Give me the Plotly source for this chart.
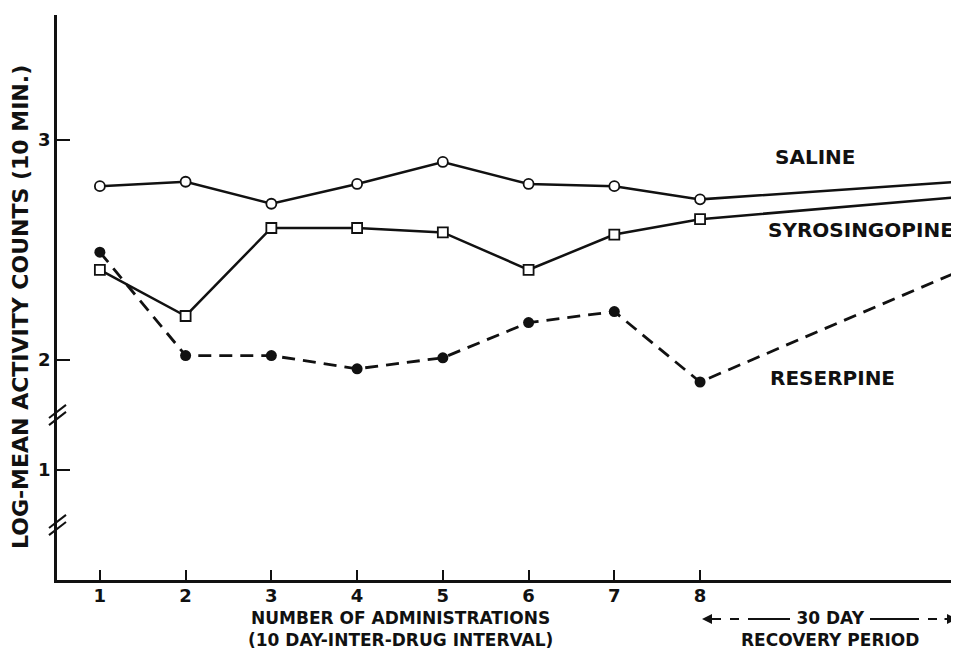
import plotly.graph_objects as go

# ---- data ----
x_admin = [1, 2, 3, 4, 5, 6, 7, 8, 11]
x_tick_vals = [1, 2, 3, 4, 5, 6, 7, 8, 11]
x_tick_text = ["1", "2", "3", "4", "5", "6", "7", "8", ""]
saline = [2.79, 2.81, 2.71, 2.80, 2.90, 2.80, 2.79, 2.73, 2.81]
syrosingopine = [2.41, 2.20, 2.60, 2.60, 2.58, 2.41, 2.57, 2.64, 2.74]
reserpine = [2.49, 2.02, 2.02, 1.96, 2.01, 2.17, 2.22, 1.90, 2.40]
y_tick_vals = [1.5, 2, 3]
y_tick_text = ["1", "2", "3"]
series_labels = ["SALINE", "SYROSINGOPINE", "RESERPINE"]

FONT = "DejaVu Sans"
BLACK = "#111111"
FS = 18
FT = 20
FB = 17

# page offset: the browser body adds an 8px margin
PLOT_L, PLOT_T, PLOT_R, PLOT_B = 57, 15, 959, 580
PW, PH = PLOT_R - PLOT_L, PLOT_B - PLOT_T


def px_x(p):
    return (p - PLOT_L) / PW


def px_y(p):
    return (PLOT_B - p) / PH


fig = go.Figure()
fig.add_trace(go.Scatter(
    x=x_admin, y=saline, mode="lines+markers", name=series_labels[0],
    line=dict(color=BLACK, width=2.5),
    marker=dict(symbol="circle", size=10, color="white", line=dict(color=BLACK, width=1.8)),
))
fig.add_trace(go.Scatter(
    x=x_admin, y=syrosingopine, mode="lines+markers", name=series_labels[1],
    line=dict(color=BLACK, width=2.5),
    marker=dict(symbol="square", size=10, color="white", line=dict(color=BLACK, width=1.8)),
))
fig.add_trace(go.Scatter(
    x=x_admin, y=reserpine, mode="lines+markers", name=series_labels[2],
    line=dict(color=BLACK, width=2.8, dash="13px,8px"),
    marker=dict(symbol="circle", size=11, color=BLACK),
))

# series labels
label_pos = [(9.34, 2.923), (9.88, 2.59), (9.55, 1.918)]
for txt, (lx, ly) in zip(series_labels, label_pos):
    fig.add_annotation(x=lx, y=ly, text="<b>" + txt + "</b>", showarrow=False,
                       font=dict(family=FONT, size=FT, color=BLACK),
                       xanchor="center", yanchor="middle")

# axis break marks
for yb in [1.75, 1.25]:
    for dy in [-0.016, 0.016]:
        fig.add_shape(type="line", xref="paper", yref="y",
                      x0=px_x(49), y0=yb - 0.03 + dy, x1=px_x(66), y1=yb + 0.03 + dy,
                      line=dict(color=BLACK, width=2))

# y-axis title
fig.add_annotation(xref="paper", yref="paper", x=px_x(20), y=px_y(307),
                   text="<b>LOG-MEAN ACTIVITY COUNTS (10 MIN.)</b>", showarrow=False,
                   textangle=-90, xanchor="center", yanchor="middle",
                   font=dict(family=FONT, size=22, color=BLACK))

# x-axis title (two lines)
fig.add_annotation(xref="paper", yref="paper", x=px_x(400), y=px_y(629),
                   xanchor="center", yanchor="middle", align="center",
                   text="<b>NUMBER OF ADMINISTRATIONS<br>(10 DAY-INTER-DRUG INTERVAL)</b>",
                   showarrow=False, font=dict(family=FONT, size=FB, color=BLACK))

# recovery period label with arrows
fig.add_annotation(xref="paper", yref="paper", x=px_x(830), y=px_y(629),
                   xanchor="center", yanchor="middle", align="center",
                   text="<b>30 DAY<br>RECOVERY PERIOD</b>", showarrow=False,
                   font=dict(family=FONT, size=FB, color=BLACK))
ya = px_y(619)
for x0, x1, dash in [(712, 752, "dash"), (752, 790, "solid"), (870, 910, "solid"), (910, 948, "dash")]:
    fig.add_shape(type="line", xref="paper", yref="paper", x0=px_x(x0), x1=px_x(x1),
                  y0=ya, y1=ya, line=dict(color=BLACK, width=2, dash=dash))
fig.add_annotation(xref="paper", yref="paper", x=px_x(702), y=ya, ax=14, ay=0,
                   text="", showarrow=True, arrowhead=2, arrowsize=1, arrowwidth=2,
                   arrowcolor=BLACK)
fig.add_annotation(xref="paper", yref="paper", x=px_x(957), y=ya, ax=-14, ay=0,
                   text="", showarrow=True, arrowhead=2, arrowsize=1, arrowwidth=2,
                   arrowcolor=BLACK)

fig.update_layout(
    width=951, height=642,
    margin=dict(l=PLOT_L - 8, r=0, t=PLOT_T - 8, b=650 - PLOT_B, autoexpand=False),
    paper_bgcolor="white", plot_bgcolor="white",
    showlegend=False,
    font=dict(family=FONT, color=BLACK, size=FS),
    xaxis=dict(range=[0.5, 11.02], tickvals=x_tick_vals,
               ticktext=["<b>" + t + "</b>" if t else "" for t in x_tick_text],
               ticks="inside", ticklen=10, tickwidth=2, tickcolor=BLACK,
               showline=True, linecolor=BLACK, linewidth=2.5, showgrid=False,
               zeroline=False, tickfont=dict(family=FONT, size=FS, color=BLACK),
               ticklabelstandoff=-2, automargin=False),
    yaxis=dict(range=[1.0, 3.568], tickvals=y_tick_vals,
               ticktext=["<b>" + t + "</b>" for t in y_tick_text],
               ticks="inside", ticklen=13, tickwidth=2, tickcolor=BLACK,
               showline=True, linecolor=BLACK, linewidth=2.5, showgrid=False,
               zeroline=False, tickfont=dict(family=FONT, size=FS, color=BLACK),
               automargin=False),
)

fig.write_html("out.html")
